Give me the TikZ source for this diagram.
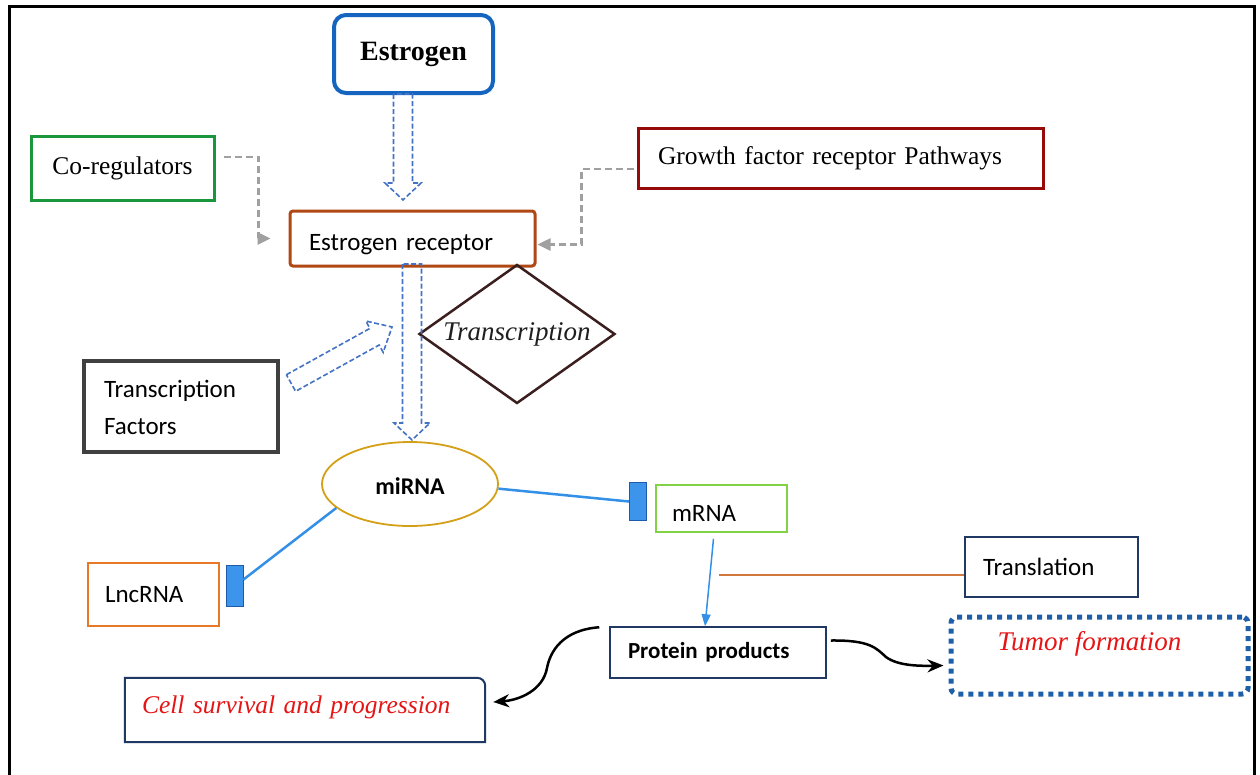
\documentclass[tikz,border=0pt]{standalone}
\usepackage{fontspec}
\setmainfont{Liberation Serif}
\newfontfamily\calibri{Carlito}
\usetikzlibrary{shapes.geometric,arrows.meta,calc}
\definecolor{estblue}{RGB}{21,101,192}
\definecolor{cogreen}{RGB}{26,150,60}
\definecolor{erbrown}{RGB}{176,72,20}
\definecolor{gfred}{RGB}{150,10,10}
\definecolor{tfgray}{RGB}{64,64,64}
\definecolor{hollowblue}{RGB}{68,114,196}
\definecolor{gold}{RGB}{212,160,23}
\definecolor{linkblue}{RGB}{52,144,230}
\definecolor{barblue}{RGB}{61,148,235}
\definecolor{barborder}{RGB}{30,90,170}
\definecolor{mgreen}{RGB}{130,210,70}
\definecolor{lncorange}{RGB}{230,120,40}
\definecolor{navy}{RGB}{31,56,100}
\definecolor{transorange}{RGB}{210,120,60}
\definecolor{tumorblue}{RGB}{30,95,170}
\definecolor{redtext}{RGB}{230,20,20}
\definecolor{diabrown}{RGB}{59,30,30}
\definecolor{dashgray}{RGB}{160,160,160}
\begin{document}
\begin{tikzpicture}[x=1pt,y=-1pt,
  cal/.style={font=\calibri\fontsize{25}{30}\selectfont},
  tms/.style={font=\fontsize{25.5}{30}\selectfont},
  itl/.style={font=\itshape\fontsize{27}{32}\selectfont},
  lbox/.style={rectangle, inner ysep=0pt, align=left},
  hollow/.style={draw=hollowblue, line width=1.6pt, dash pattern=on 5pt off 2.5pt, line join=miter},
  graylink/.style={draw=dashgray, line width=2.5pt, dash pattern=on 7pt off 4pt, -{Triangle[length=13pt,width=12pt,fill=dashgray]}},
  bar/.style={rectangle, fill=barblue, draw=barborder, line width=1pt, minimum width=17, minimum height=38, inner sep=0pt},
  inhib/.style={draw=linkblue, line width=2.5pt},
  curvy/.style={draw=black, line width=2.5pt, -{Stealth[length=16pt,width=13pt]}}
]
\useasboundingbox (0,0) rectangle (1260,774);
\fill[white] (0,0) rectangle (1260,774);
\draw[line width=3pt] (9,778) -- (9,6) -- (1254,6) -- (1254,778);

% nodes
\node[rectangle, draw=estblue, line width=4pt, rounded corners=12pt, minimum width=159, minimum height=78,
  font=\bfseries\fontsize{28}{32}\selectfont] (est) at (413.5,54) {Estrogen};
\node[rectangle, draw=cogreen, line width=3pt, minimum width=183, minimum height=64, tms] (coreg) at (122.5,168) {Co-regulators};
\node[lbox, draw=erbrown, line width=3pt, rounded corners=3pt, minimum height=55, inner xsep=19pt, text width=207pt, cal, text height=24pt, text depth=0pt] (er) at (412.5,238.5) {Estrogen receptor};
\node[lbox, draw=gfred, line width=3pt, minimum height=60, inner xsep=20pt, text width=365pt, tms] (gf) at (840.5,158) {Growth factor receptor Pathways};
\node[diamond, draw=diabrown, line width=2.5pt, aspect=1.41, inner sep=0pt, minimum width=196, minimum height=139, itl, text=black!88] (dia) at (517,334) {Transcription};
\node[lbox, draw=tfgray, line width=4pt, minimum height=91, inner xsep=20pt, text width=154pt, font=\calibri\fontsize{25}{37}\selectfont, text depth=35pt] (tf) at (181,406.5) {Transcription\\Factors};
\node[ellipse, draw=gold, line width=1.8pt, minimum width=176, minimum height=84, inner sep=0pt, font=\calibri\bfseries\fontsize{24}{28}\selectfont, text height=20pt, text depth=0pt] (mirna) at (410,484) {miRNA};
\node[bar] (bm) at (638,501.5) {};
\node[lbox, draw=mgreen, line width=1.5pt, minimum height=47, inner xsep=16pt, text width=99pt, cal, text height=26pt, text depth=0pt] (mrna) at (721.5,508.5) {mRNA};
\node[bar, minimum height=41] (bl) at (234.5,585.5) {};
\node[lbox, draw=lncorange, line width=1.8pt, minimum height=63, inner xsep=17pt, text width=97pt, cal] (lnc) at (153.5,594.5) {LncRNA};
\node[lbox, draw=navy, line width=1.5pt, minimum height=60, inner xsep=18pt, text width=137pt, cal] (trans) at (1051.5,567) {Translation};
\node[lbox, draw=navy, line width=1.5pt, minimum height=51, inner xsep=18pt, text width=180pt, font=\calibri\bfseries\fontsize{23}{28}\selectfont] (prot) at (718,652.5) {Protein products};
\node[rectangle, draw=tumorblue, line width=5pt, dash pattern=on 5pt off 5pt, rounded corners=6pt, minimum width=297, minimum height=77,
  itl, text=redtext, text depth=30pt] (tumor) at (1099.5,655.5) {\hspace*{-20pt}Tumor formation};
\node[lbox, minimum height=64, inner xsep=17pt, text width=326pt, font=\itshape\fontsize{25.5}{30}\selectfont, text=redtext, text depth=11pt] (cs) at (305,710) {\mbox{Cell survival and progression}};
\draw[navy, line width=2pt] (cs.south west) -- (cs.north west) [rounded corners=8pt] -- (cs.north east) [sharp corners] -- (cs.south east) -- cycle;

% hollow arrows
\draw[hollow] (393.5,94) -- (393.5,183) -- (385,183) -- (403,200) -- (421,183) -- (412.5,183) -- (412.5,94) -- cycle;
\draw[hollow] (402.5,264) -- (402.5,423) -- (394,423) -- (412,440) -- (430,423) -- (421.5,423) -- (421.5,264) -- cycle;
\draw[hollow] (286.4,374.7) -- (369.9,328.4) -- (365.8,321.0) -- (392,327) -- (383.2,352.4) -- (379.1,345.0) -- (295.6,391.3) -- cycle;

% gray dashed connectors
\draw[graylink] ([xshift=8pt,yshift=11pt]coreg.east) -- ++(35,0) |- ([xshift=-18pt]er.west);
\draw[graylink] ([xshift=-3pt,yshift=-11pt]gf.west) -- ++(-52,0) |- ([xshift=1pt,yshift=-6pt]er.east);

% inhibition links
\draw[inhib] (mirna.-3) -- (bm.west);
\draw[inhib] (mirna.198) -- ([yshift=6pt]bl.east);

% mRNA to protein
\draw[draw=linkblue, line width=1.5pt, -{Triangle[length=12pt,width=9pt]}] ([xshift=-8pt,yshift=-6pt]mrna.south) -- ([xshift=-13pt]prot.north);
\coordinate (tl) at (719,575);
\draw[transorange, line width=2pt] (tl) -- (tl -| trans.west);

% curved arrows
\draw[curvy] ([xshift=4pt,yshift=12pt]prot.east) .. controls (870,640) and (876,648) .. (886,657) .. controls (898,666) and (920,666) .. ([xshift=-5pt,yshift=-10pt]tumor.west);
\draw[curvy] ([xshift=-10pt,yshift=-1pt]prot.north west) .. controls (562,630) and (550,652) .. (547,668) .. controls (543,690) and (520,700) .. ([xshift=8pt,yshift=8pt]cs.east);
\end{tikzpicture}
\end{document}
